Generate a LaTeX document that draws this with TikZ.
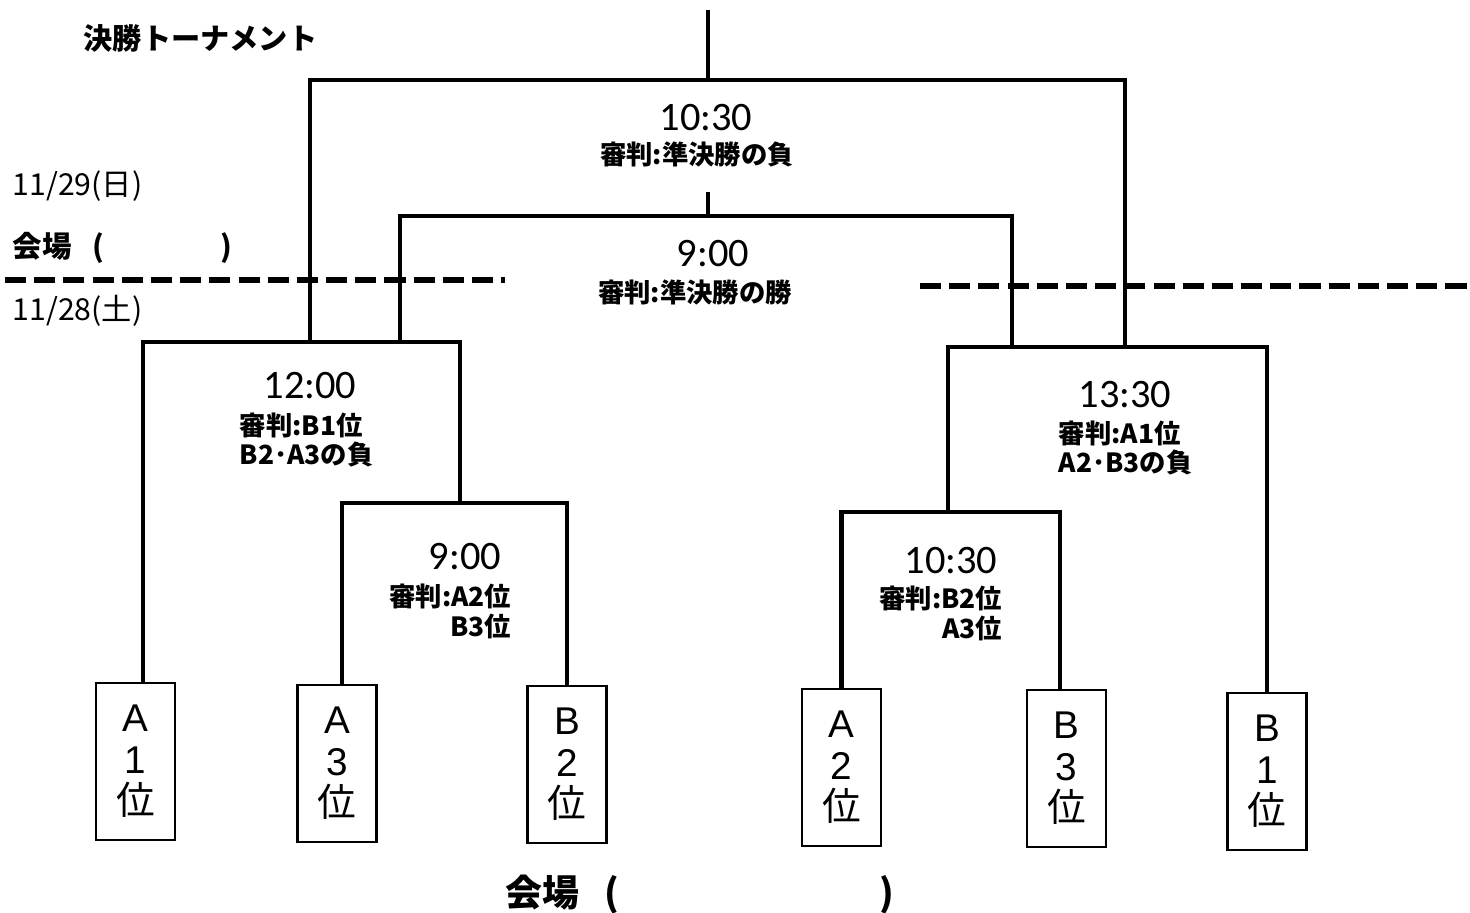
\documentclass[tikz,border=0pt]{standalone}
\usepackage{fontspec}
\setmainfont{Noto Sans CJK JP}
\newfontfamily\timefont{Carlito}
\newfontfamily\seedfont{Liberation Sans}
\usetikzlibrary{positioning,calc}

\newcommand{\seedtext}[2]{{\seedfont #1}\\{\seedfont #2}\\位}

\tikzset{
    seedbox/.style={rectangle, draw, line width=0.8pt, minimum width=0.79cm, minimum height=1.57cm, inner sep=0pt, align=center, font=\fontsize{11}{11.8}\selectfont},
    bracket/.style={line width=1.4pt},
    daysplit/.style={line width=1.5pt, dash pattern=on 6pt off 2.3pt},
    timelabel/.style={font=\timefont\fontsize{11.5}{12}\selectfont, inner sep=0pt},
    reflabel/.style={font=\bfseries\fontsize{7.5}{8.5}\selectfont, inner sep=0pt},
    sidelabel/.style={anchor=west, inner sep=0pt, font=\fontsize{8.6}{10}\selectfont}
}

\begin{document}
\begin{tikzpicture}[x=0.01cm, y=-0.01cm]
    \useasboundingbox (0,0) rectangle (1470,913);

    % Title and days
    \node[sidelabel, font=\bfseries\fontsize{8.3}{10}\selectfont] (title) at (83,38) {決勝トーナメント};
    \node[sidelabel] (day2) at (12,186) {11/29(日)};
    \node[sidelabel, font=\bfseries\fontsize{8.4}{10}\selectfont] (venue2) at (12,248) {会場\hspace{6pt}(\hspace{33pt})};
    \node[sidelabel] (day1) at (12,311) {11/28(土)};
    \draw[daysplit] (5,280) -- (505,280);
    \draw[daysplit] (920,286) -- (1470,286);

    % Seeds
    \node[seedbox] (a1) at (135.5,761.5) {\seedtext{A}{1}};
    \node[seedbox] (a3) at (337,763.5) {\seedtext{A}{3}};
    \node[seedbox] (b2) at (567,764.5) {\seedtext{B}{2}};
    \node[seedbox] (a2) at (841.5,767.5) {\seedtext{A}{2}};
    \node[seedbox] (b3) at (1066.5,768.5) {\seedtext{B}{3}};
    \node[seedbox] (b1) at (1267,771.5) {\seedtext{B}{1}};

    % Joints
    \coordinate (w1) at (460,503);
    \coordinate (w2) at (310,342);
    \coordinate (w3) at (948,512);
    \coordinate (w4) at (1125,347);
    \coordinate (fin) at (708,80);
    \coordinate (champ) at (708,10);
    \coordinate (l3) at (400,342);
    \coordinate (r3) at (1012,347);
    \coordinate (third) at (708,216);
    \coordinate (thirdtop) at (708,192);

    % Brackets
    \draw[bracket] ([xshift=0.05cm]a3.north) |- (w1) -| (b2.north);
    \draw[bracket] ([xshift=0.075cm]a1.north) |- (w2) -| (w1);
    \draw[bracket] (a2.north) |- (w3) -| ([xshift=-0.065cm]b3.north);
    \draw[bracket] (w3) |- (w4) -| (b1.north);
    \draw[bracket] (w2) |- (fin) -| (w4);
    \draw[bracket] (fin) -- (champ);
    \draw[bracket] (l3) |- (third) -| (r3);
    \draw[bracket] (third) -- (thirdtop);

    % Final
    \node[timelabel] (tfin) at (706,118) {10:30};
    \node[reflabel] (rfin) at (697,154) {審判:準決勝の負};

    % Third place
    \node[timelabel] (tthird) at (713,254) {9:00};
    \node[reflabel] (rthird) at (695,292) {審判:準決勝の勝};

    % Semifinals
    \node[timelabel] (tsemi1) at (310,386) {12:00};
    \node[reflabel, anchor=west, align=left] (rsemi1) at (239,440) {審判:B1位\\B2･A3の負};
    \node[timelabel] (tsemi2) at (1125,395) {13:30};
    \node[reflabel, anchor=west, align=left] (rsemi2) at (1058,448) {審判:A1位\\A2･B3の負};

    % First round
    \node[timelabel] (tm1) at (465,557) {9:00};
    \node[reflabel, anchor=east, align=right] (rm1) at (512,611) {審判:A2位\\B3位};
    \node[timelabel] (tm2) at (951,561) {10:30};
    \node[reflabel, anchor=east, align=right] (rm2) at (1003,613) {審判:B2位\\A3位};

    % Venue day 1
    \node[sidelabel, font=\bfseries\fontsize{10.5}{12}\selectfont] (venue1) at (505,895) {会場\hspace{7pt}(\hspace{74pt})};
\end{tikzpicture}
\end{document}
